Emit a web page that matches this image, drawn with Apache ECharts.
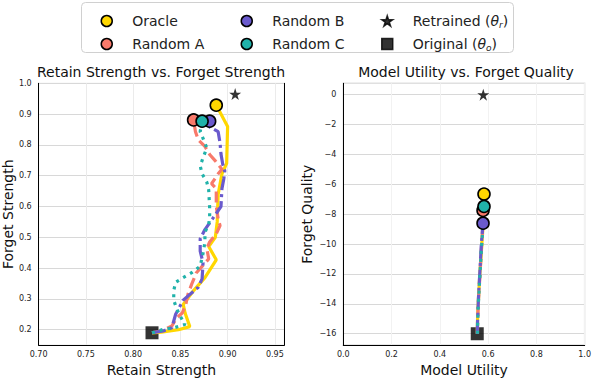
<!DOCTYPE html>
<html>
<head>
<meta charset="utf-8">
<script src="https://cdn.jsdelivr.net/npm/echarts@6/dist/echarts.min.js"></script>
<style>html,body{margin:0;padding:0;background:#fff}#c{width:594px;height:382px}</style>
</head>
<body>
<div id="c"></div>
<script>
// ---------- data ----------
const LEFT_X_TICKS = [0.70, 0.75, 0.80, 0.85, 0.90, 0.95];
const LEFT_Y_TICKS = [0.2, 0.3, 0.4, 0.5, 0.6, 0.7, 0.8, 0.9, 1.0];
const RIGHT_X_TICKS = [0.0, 0.2, 0.4, 0.6, 0.8, 1.0];
const RIGHT_Y_TICKS = [-16, -14, -12, -10, -8, -6, -4, -2, 0];

// Left panel: Retain Strength (x) vs Forget Strength (y)
const oracleRetain  = [0.820,0.830,0.848,0.860,0.855,0.853,0.864,0.876,0.888,0.880,0.887,0.889,0.890,0.894,0.899,0.900,0.892,0.888];
const oracleForget  = [0.190,0.192,0.200,0.210,0.254,0.282,0.327,0.369,0.427,0.470,0.500,0.550,0.640,0.706,0.740,0.860,0.906,0.929];
const randARetain   = [0.820,0.830,0.841,0.846,0.852,0.856,0.858,0.862,0.867,0.880,0.878,0.881,0.888,0.892,0.890,0.888,0.888,0.883,0.890,0.894,0.887,0.881,0.876,0.869,0.866,0.864];
const randAForget   = [0.190,0.196,0.212,0.238,0.254,0.285,0.315,0.348,0.385,0.430,0.464,0.485,0.511,0.538,0.560,0.600,0.658,0.674,0.706,0.721,0.748,0.769,0.795,0.816,0.843,0.881];
const randBRetain   = [0.820,0.832,0.841,0.845,0.853,0.869,0.873,0.874,0.871,0.871,0.876,0.884,0.893,0.894,0.896,0.897,0.895,0.893,0.892,0.890,0.881,0.881];
const randBForget   = [0.190,0.196,0.206,0.250,0.296,0.338,0.365,0.417,0.455,0.495,0.525,0.560,0.600,0.658,0.690,0.716,0.735,0.770,0.806,0.843,0.858,0.877];
const randCRetain   = [0.820,0.832,0.843,0.855,0.850,0.846,0.843,0.843,0.845,0.853,0.862,0.871,0.874,0.876,0.876,0.880,0.881,0.881,0.880,0.878,0.873,0.871,0.874,0.878,0.874,0.871,0.873];
const randCForget   = [0.190,0.201,0.206,0.217,0.243,0.269,0.296,0.327,0.354,0.369,0.385,0.406,0.448,0.485,0.516,0.543,0.563,0.595,0.653,0.679,0.706,0.732,0.758,0.790,0.821,0.843,0.877];
const retrainedLeft = [0.908, 0.965];
const originalLeft  = [0.820, 0.190];

// Right panel: Model Utility (x) vs Forget Quality (y)
const oracleUtility = [0.555,0.556,0.558,0.561,0.564,0.567,0.571,0.574,0.577,0.580,0.582,0.583];
const oracleQuality = [-16.0,-15.2,-14.3,-13.4,-12.5,-11.7,-10.8,-10.0,-9.3,-8.4,-7.5,-6.65];
const randAUtility  = [0.556,0.557,0.559,0.562,0.566,0.569,0.572,0.575,0.578,0.579];
const randAQuality  = [-16.0,-15.0,-14.1,-13.1,-12.2,-11.3,-10.4,-9.6,-8.8,-7.75];
const randBUtility  = [0.555,0.556,0.558,0.560,0.563,0.566,0.569,0.572,0.576,0.579];
const randBQuality  = [-16.0,-15.3,-14.5,-13.6,-12.7,-11.8,-10.9,-10.0,-9.2,-8.6];
const randCUtility  = [0.556,0.557,0.559,0.562,0.565,0.568,0.571,0.575,0.578,0.581,0.583];
const randCQuality  = [-16.0,-15.1,-14.2,-13.3,-12.4,-11.5,-10.6,-9.7,-8.9,-8.1,-7.48];
const retrainedRight = [0.580, 0.0];
const originalRight  = [0.555, -16.0];

const SERIES_NAMES = ['Oracle', 'Random A', 'Random B', 'Random C'];
// ---------- styles ----------
const FONT = 'DejaVu Sans';
const COLORS = ['#FFD700', '#F87A6B', '#6A5ACD', '#20B2AA'];
const DASHES = ['solid', [11, 5], [14, 4, 3, 4], [3, 5]];
const STAR = 'path://M50,0 L61.2,34.5 L97.6,34.5 L68.2,55.9 L79.4,90.5 L50,69.1 L20.6,90.5 L31.8,55.9 L2.4,34.5 L38.8,34.5 Z';

const zip = (a, b) => a.map((v, i) => [v, b[i]]);
const leftPaths  = [[oracleRetain, oracleForget], [randARetain, randAForget], [randBRetain, randBForget], [randCRetain, randCForget]];
const rightPaths = [[oracleUtility, oracleQuality], [randAUtility, randAQuality], [randBUtility, randBQuality], [randCUtility, randCQuality]];

const series = [];
function addPanel(paths, xi, yi, star, square) {
  series.push({
    name: 'Original', type: 'scatter', xAxisIndex: xi, yAxisIndex: yi,
    data: [square], symbol: 'rect', symbolSize: 13, z: 1,
    itemStyle: { color: '#000', borderColor: '#000', borderWidth: 0 }
  });
  paths.forEach((p, k) => {
    series.push({
      name: SERIES_NAMES[k] + ' path', type: 'line', xAxisIndex: xi, yAxisIndex: yi,
      data: zip(p[0], p[1]), symbol: 'none', z: 2, silent: true,
      lineStyle: { color: COLORS[k], width: 3.2, type: DASHES[k], cap: 'butt' }
    });
  });
  [0, 1, 2, 3].forEach(k => {
    const p = paths[k];
    const n = p[0].length - 1;
    series.push({
      name: SERIES_NAMES[k], type: 'scatter', xAxisIndex: xi, yAxisIndex: yi,
      data: [[p[0][n], p[1][n]]], symbol: 'circle', symbolSize: 12, z: 3,
      itemStyle: { color: COLORS[k], borderColor: '#000', borderWidth: 1.6, opacity: 1 }
    });
  });
  series.push({
    name: 'Retrained', type: 'scatter', xAxisIndex: xi, yAxisIndex: yi,
    data: [star], symbol: STAR, symbolSize: 12, z: 4,
    itemStyle: { color: '#000', borderColor: '#000', borderWidth: 0 }
  });
}
addPanel(leftPaths, 0, 0, retrainedLeft, originalLeft);
addPanel(rightPaths, 1, 2, retrainedRight, originalRight);

const tickLabel = { fontSize: 8, color: '#222', fontFamily: FONT };
const axisName = { fontSize: 14, color: '#111', fontFamily: FONT };
const minus = v => (v < 0 ? '\u2212' + Math.abs(v) : String(v));

const legendCommon = {
  orient: 'vertical', top: 8, itemWidth: 11, itemHeight: 11, itemGap: 7,
  selectedMode: false,
  itemStyle: { borderColor: '#000', borderWidth: 1.5 },
  textStyle: {
    fontSize: 14, color: '#222', fontFamily: FONT, lineHeight: 16, padding: [0, 0, 0, 15],
    rich: {
      t: { fontSize: 14, fontStyle: 'italic', fontFamily: FONT, lineHeight: 16 },
      s: { fontSize: 9, fontStyle: 'italic', fontFamily: FONT, lineHeight: 9, verticalAlign: 'bottom' },
      n: { fontSize: 14, fontFamily: FONT, lineHeight: 16 }
    }
  },
  formatter: name => {
    if (name === 'Retrained') return '{n|Retrained (}{t|θ}{s|r}{n|)}';
    if (name === 'Original') return '{n|Original (}{t|θ}{s|o}{n|)}';
    return name;
  }
};

const option = {
  animation: false,
  backgroundColor: '#fff',
  textStyle: { fontFamily: FONT },
  graphic: { elements: [{
    type: 'rect', z: 0, shape: { x: 81.5, y: 2.5, width: 432, height: 50, r: 4 },
    style: { fill: '#fff', stroke: '#d0d0d0', lineWidth: 1 }
  }]},
  legend: [
    Object.assign({}, legendCommon, { left: 95.5, data: [{ name: 'Oracle', icon: 'circle' }, { name: 'Random A', icon: 'circle' }] }),
    Object.assign({}, legendCommon, { left: 235.5, data: [{ name: 'Random B', icon: 'circle' }, { name: 'Random C', icon: 'circle' }] }),
    Object.assign({}, legendCommon, { left: 376, data: [{ name: 'Retrained', icon: STAR }, { name: 'Original', icon: 'rect' }] })
  ],
  title: [
    { text: 'Retain Strength vs. Forget Strength', left: 161, top: 65, textAlign: 'center', padding: 0,
      textStyle: { fontSize: 14, fontWeight: 'normal', color: '#111', fontFamily: FONT } },
    { text: 'Model Utility vs. Forget Quality', left: 466, top: 65, textAlign: 'center', padding: 0,
      textStyle: { fontSize: 14, fontWeight: 'normal', color: '#111', fontFamily: FONT } }
  ],
  grid: [
    { left: 37.7, top: 83.3, width: 246.6, height: 269.4, show: true, borderColor: '#e3e3e3', borderWidth: 1, backgroundColor: 'transparent' },
    { left: 343.3, top: 83.3, width: 244.7, height: 269.4, show: true, borderColor: '#e0e0e0', borderWidth: 1.5, backgroundColor: 'transparent' }
  ],
  xAxis: [
    { type: 'value', gridIndex: 0, min: 0.70, max: 0.96,
      name: 'Retain Strength', nameLocation: 'middle', nameGap: 15, nameTextStyle: axisName,
      axisLine: { show: true, onZero: false, lineStyle: { color: '#000', width: 1 } },
      axisTick: { show: false, customValues: LEFT_X_TICKS },
      axisLabel: { customValues: LEFT_X_TICKS, formatter: v => v.toFixed(2), margin: 5, ...tickLabel },
      splitLine: { show: true, lineStyle: { color: '#ebebeb', width: 1 } } },
    { type: 'value', gridIndex: 1, min: 0, max: 1, interval: 0.2,
      name: 'Model Utility', nameLocation: 'middle', nameGap: 15, nameTextStyle: axisName,
      axisLine: { show: true, onZero: false, lineStyle: { color: '#000', width: 1 } },
      axisTick: { show: false },
      axisLabel: { formatter: v => v.toFixed(1), margin: 5, ...tickLabel },
      splitLine: { show: true, lineStyle: { color: '#f2f2f2', width: 1 } } }
  ],
  yAxis: [
    { type: 'value', gridIndex: 0, min: 0.15, max: 1.0,
      name: 'Forget Strength', nameLocation: 'middle', nameGap: 22, nameTextStyle: axisName,
      axisLine: { show: true, onZero: false, lineStyle: { color: '#000', width: 1 } },
      axisTick: { show: false, customValues: LEFT_Y_TICKS },
      axisLabel: { customValues: LEFT_Y_TICKS, formatter: v => v.toFixed(1), margin: 7, ...tickLabel },
      splitLine: { show: true, lineStyle: { color: '#d8d8d8', width: 1 } } },
    { type: 'value', gridIndex: 0, position: 'right', min: 0.15, max: 1.0,
      axisLine: { show: true, onZero: false, lineStyle: { color: '#000', width: 1 } },
      axisTick: { show: false }, axisLabel: { show: false }, splitLine: { show: false } },
    { type: 'value', gridIndex: 1, min: -16.76, max: 0.76,
      name: 'Forget Quality', nameLocation: 'middle', nameGap: 29, nameTextStyle: axisName,
      axisLine: { show: true, onZero: false, lineStyle: { color: '#000', width: 1 } },
      axisTick: { show: false, customValues: RIGHT_Y_TICKS },
      axisLabel: { customValues: RIGHT_Y_TICKS, formatter: minus, margin: 7, ...tickLabel },
      splitLine: { show: true, lineStyle: { color: '#d8d8d8', width: 1 } } }
  ],
  series: series
};

const chart = echarts.init(document.getElementById('c'), null, { renderer: 'svg' });
chart.setOption(option);
</script>
</body>
</html>
